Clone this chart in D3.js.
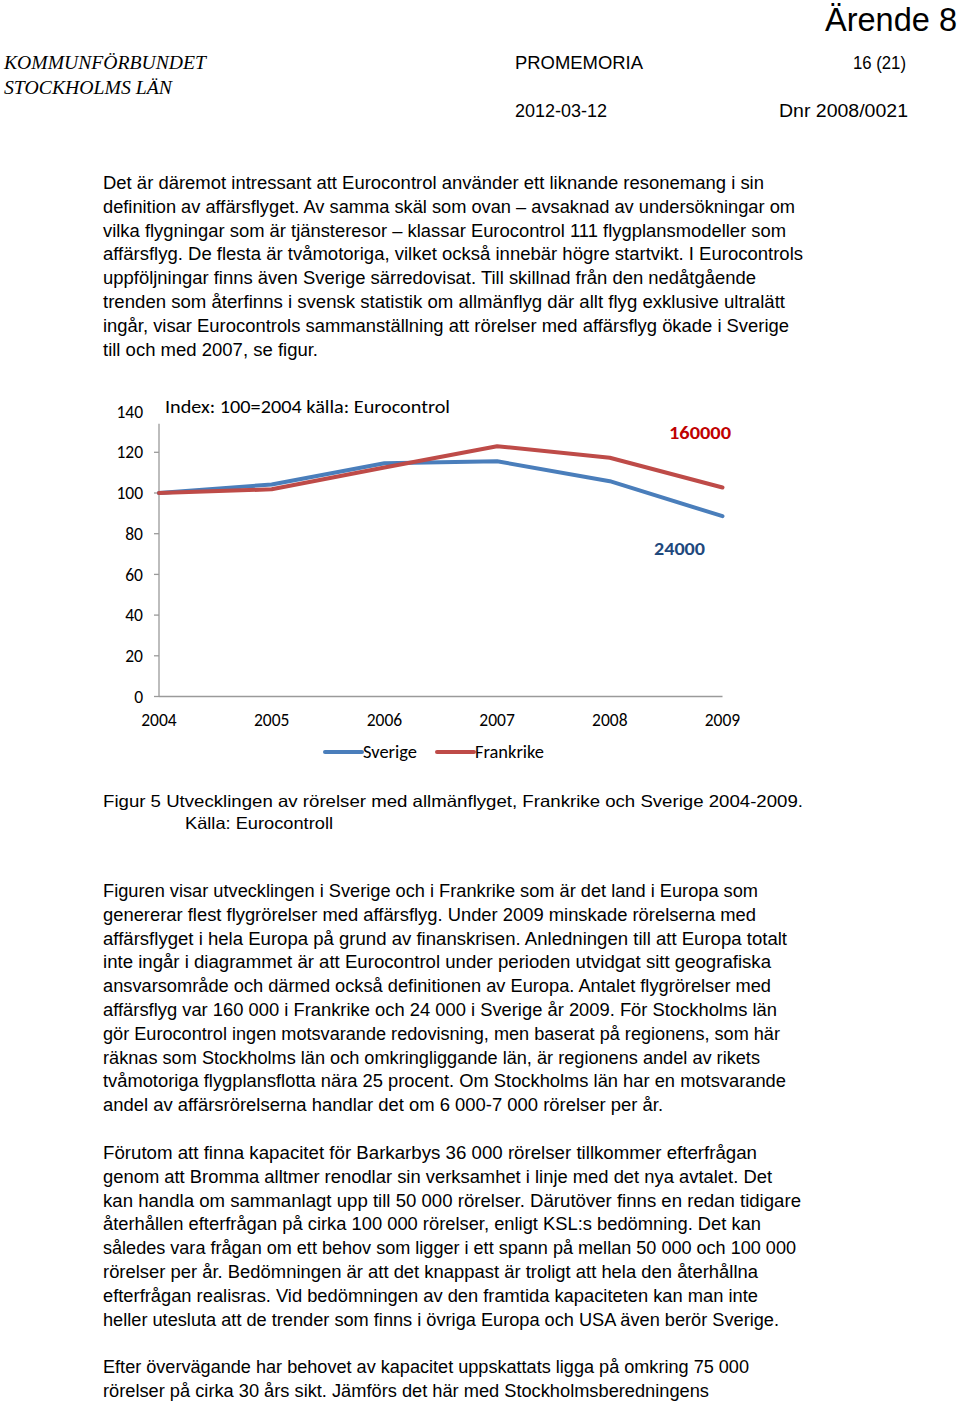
<!DOCTYPE html>
<html>
<head>
<meta charset="utf-8">
<script src="https://cdn.jsdelivr.net/npm/d3@7"></script>
<style>
  html, body { margin: 0; padding: 0; background: #fff; }
  svg { display: block; }
</style>
</head>
<body>
<svg id="page" width="960" height="1403"></svg>
<script>
// ---------- Chart data ----------
const years = ["2004", "2005", "2006", "2007", "2008", "2009"];
const sverige = [100, 104.2, 114.6, 115.6, 105.8, 88.6];
const frankrike = [100, 101.8, 112.5, 123.0, 117.3, 102.7];
const yTicks = [0, 20, 40, 60, 80, 100, 120, 140];
const seriesNames = ["Sverige", "Frankrike"];
const annotations = ["160000", "24000"];
const chartTitle = "Index: 100=2004 källa: Eurocontrol";

// ---------- Page text ----------
const block1 = [
  "Det är däremot intressant att Eurocontrol använder ett liknande resonemang i sin",
  "definition av affärsflyget. Av samma skäl som ovan – avsaknad av undersökningar om",
  "vilka flygningar som är tjänsteresor – klassar Eurocontrol 111 flygplansmodeller som",
  "affärsflyg. De flesta är tvåmotoriga, vilket också innebär högre startvikt. I Eurocontrols",
  "uppföljningar finns även Sverige särredovisat. Till skillnad från den nedåtgående",
  "trenden som återfinns i svensk statistik om allmänflyg där allt flyg exklusive ultralätt",
  "ingår, visar Eurocontrols sammanställning att rörelser med affärsflyg ökade i Sverige",
  "till och med 2007, se figur."
];
const block2 = [
  "Figuren visar utvecklingen i Sverige och i Frankrike som är det land i Europa som",
  "genererar flest flygrörelser med affärsflyg. Under 2009 minskade rörelserna med",
  "affärsflyget i hela Europa på grund av finanskrisen. Anledningen till att Europa totalt",
  "inte ingår i diagrammet är att Eurocontrol under perioden utvidgat sitt geografiska",
  "ansvarsområde och därmed också definitionen av Europa. Antalet flygrörelser med",
  "affärsflyg var 160 000 i Frankrike och 24 000 i Sverige år 2009. För Stockholms län",
  "gör Eurocontrol ingen motsvarande redovisning, men baserat på regionens, som här",
  "räknas som Stockholms län och omkringliggande län, är regionens andel av rikets",
  "tvåmotoriga flygplansflotta nära 25 procent. Om Stockholms län har en motsvarande",
  "andel av affärsrörelserna handlar det om 6 000-7 000 rörelser per år."
];
const block3 = [
  "Förutom att finna kapacitet för Barkarbys 36 000 rörelser tillkommer efterfrågan",
  "genom att Bromma alltmer renodlar sin verksamhet i linje med det nya avtalet. Det",
  "kan handla om sammanlagt upp till 50 000 rörelser. Därutöver finns en redan tidigare",
  "återhållen efterfrågan på cirka 100 000 rörelser, enligt KSL:s bedömning. Det kan",
  "således vara frågan om ett behov som ligger i ett spann på mellan 50 000 och 100 000",
  "rörelser per år. Bedömningen är att det knappast är troligt att hela den återhållna",
  "efterfrågan realisras. Vid bedömningen av den framtida kapaciteten kan man inte",
  "heller utesluta att de trender som finns i övriga Europa och USA även berör Sverige."
];
const block4 = [
  "Efter övervägande har behovet av kapacitet uppskattats ligga på omkring 75 000",
  "rörelser på cirka 30 års sikt. Jämförs det här med Stockholmsberedningens"
];
const caption = [
  "Figur 5 Utvecklingen av rörelser med allmänflyget, Frankrike och Sverige 2004-2009.",
  "Källa: Eurocontroll"
];

// line right edges (layout)
const ends1 = [764, 795, 786, 803, 756, 785, 789, 318];
const ends2 = [758, 756, 787, 771, 771, 777, 780, 760, 786, 663];
const ends3 = [757, 772, 801, 761, 796, 758, 758, 779];
const ends4 = [749, 709];

const svg = d3.select("#page");
const bodyFont = "'Liberation Sans Narrow', 'Liberation Sans', Arial, sans-serif";
const chartFont = "Carlito, Calibri, Lato, 'Open Sans', sans-serif";

// ---------- Header ----------
svg.append("text").attr("x", 957).attr("y", 31).attr("text-anchor", "end")
  .attr("font-family", "'Liberation Sans Narrow', 'Liberation Sans', sans-serif")
  .attr("font-size", 33).attr("textLength", 132).attr("lengthAdjust", "spacingAndGlyphs")
  .attr("fill", "#000").text("Ärende 8");

svg.append("text").attr("x", 4).attr("y", 69)
  .attr("font-family", "'Liberation Serif', serif").attr("font-style", "italic")
  .attr("font-size", 18.5).attr("textLength", 202).attr("lengthAdjust", "spacingAndGlyphs")
  .text("KOMMUNFÖRBUNDET");
svg.append("text").attr("x", 4).attr("y", 94)
  .attr("font-family", "'Liberation Serif', serif").attr("font-style", "italic")
  .attr("font-size", 18.5).attr("textLength", 168).attr("lengthAdjust", "spacingAndGlyphs")
  .text("STOCKHOLMS LÄN");

function hdr(x, y, t, w) {
  svg.append("text").attr("x", x).attr("y", y)
    .attr("font-family", bodyFont).attr("font-size", 17.5)
    .attr("textLength", w).attr("lengthAdjust", "spacingAndGlyphs").text(t);
}
hdr(515, 69, "PROMEMORIA", 128);
hdr(853, 69, "16 (21)", 53);
hdr(515, 117, "2012-03-12", 92);
hdr(779, 117, "Dnr 2008/0021", 129);

// ---------- Body text ----------
function block(lines, ends, y0) {
  lines.forEach((t, i) => {
    svg.append("text").attr("x", 103).attr("y", y0 + i * 23.8)
      .attr("font-family", bodyFont).attr("font-size", 17.5).attr("fill", "#000")
      .attr("textLength", ends[i] - 103).attr("lengthAdjust", "spacingAndGlyphs")
      .text(t);
  });
}
block(block1, ends1, 189);
block(block2, ends2, 897);
block(block3, ends3, 1159);
block(block4, ends4, 1373);

// caption
svg.append("text").attr("x", 103).attr("y", 807)
  .attr("font-family", "'Liberation Sans', Arial, sans-serif").attr("font-size", 16.5)
  .attr("textLength", 700).attr("lengthAdjust", "spacingAndGlyphs").text(caption[0]);
svg.append("text").attr("x", 185).attr("y", 829)
  .attr("font-family", "'Liberation Sans', Arial, sans-serif").attr("font-size", 16.5)
  .attr("textLength", 148).attr("lengthAdjust", "spacingAndGlyphs").text(caption[1]);

// ---------- Chart ----------
const x = d3.scalePoint().domain(years).range([159, 722.5]);
const y = d3.scaleLinear().domain([0, 140]).range([696.5, 411.6]);
const axisColor = "#9a9a9a";
const tickFont = 17.5;

const g = svg.append("g");

// y axis line (starts below the top label, as in the reference)
g.append("line").attr("x1", 159).attr("x2", 159)
  .attr("y1", y(134)).attr("y2", y(0))
  .attr("stroke", axisColor).attr("stroke-width", 1.3);
// y ticks
g.selectAll(".ytick").data(yTicks.filter(v => v <= 120)).join("line")
  .attr("x1", 154).attr("x2", 159)
  .attr("y1", d => y(d)).attr("y2", d => y(d))
  .attr("stroke", axisColor).attr("stroke-width", 1.3);
// y labels
g.selectAll(".ylab").data(yTicks).join("text")
  .attr("x", 143).attr("y", d => y(d)).attr("dy", "0.35em")
  .attr("text-anchor", "end").attr("font-family", chartFont)
  .attr("font-size", tickFont).attr("fill", "#000").text(d => d);

// x axis
g.append("line").attr("x1", 159).attr("x2", 722.5)
  .attr("y1", y(0)).attr("y2", y(0))
  .attr("stroke", axisColor).attr("stroke-width", 1.3);
g.selectAll(".xlab").data(years).join("text")
  .attr("x", d => x(d)).attr("y", 720).attr("dy", "0.35em")
  .attr("text-anchor", "middle").attr("font-family", chartFont)
  .attr("font-size", tickFont).attr("fill", "#000").text(d => d);

// title
g.append("text").attr("x", 165).attr("y", 407).attr("dy", "0.35em")
  .attr("font-family", chartFont).attr("font-size", 18.5)
  .attr("textLength", 285).attr("lengthAdjust", "spacingAndGlyphs")
  .text(chartTitle);

// lines
const line = d3.line().x((d, i) => x(years[i])).y(d => y(d));
const series = [
  { name: seriesNames[0], values: sverige, color: "#4a7ebb" },
  { name: seriesNames[1], values: frankrike, color: "#be4b48" }
];
series.forEach(s => {
  g.append("path").datum(s.values).attr("d", line)
    .attr("fill", "none").attr("stroke", s.color).attr("stroke-width", 4)
    .attr("stroke-linejoin", "round").attr("stroke-linecap", "round");
});

// annotations
g.append("text").attr("x", 669).attr("y", 433).attr("dy", "0.35em")
  .attr("font-family", chartFont).attr("font-weight", "bold").attr("font-size", 18.5)
  .attr("fill", "#c00000").attr("textLength", 62).attr("lengthAdjust", "spacingAndGlyphs")
  .text(annotations[0]);
g.append("text").attr("x", 654).attr("y", 549).attr("dy", "0.35em")
  .attr("font-family", chartFont).attr("font-weight", "bold").attr("font-size", 18.5)
  .attr("fill", "#1f497d").attr("textLength", 51).attr("lengthAdjust", "spacingAndGlyphs")
  .text(annotations[1]);

// legend
const legendItems = [
  { name: seriesNames[0], color: "#4a7ebb", x0: 325, w: 54 },
  { name: seriesNames[1], color: "#be4b48", x0: 437, w: 69 }
];
legendItems.forEach(it => {
  g.append("line").attr("x1", it.x0).attr("x2", it.x0 + 37)
    .attr("y1", 752).attr("y2", 752)
    .attr("stroke", it.color).attr("stroke-width", 4).attr("stroke-linecap", "round");
  g.append("text").attr("x", it.x0 + 38).attr("y", 752).attr("dy", "0.35em")
    .attr("font-family", chartFont).attr("font-size", tickFont)
    .attr("textLength", it.w).attr("lengthAdjust", "spacingAndGlyphs")
    .text(it.name);
});
</script>
</body>
</html>
